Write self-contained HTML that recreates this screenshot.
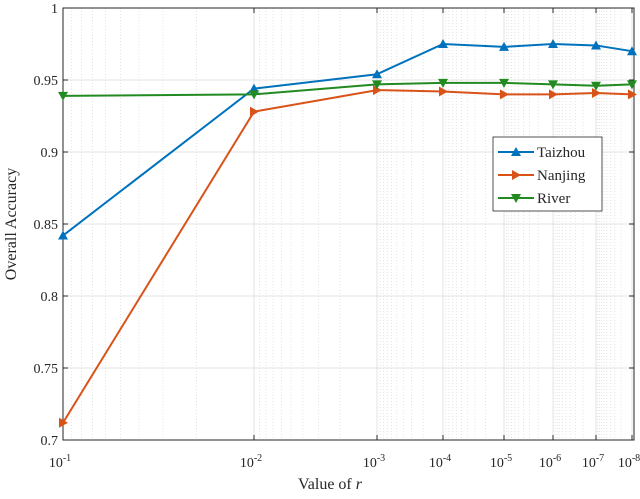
<!DOCTYPE html>
<html><head><meta charset="utf-8"><style>
body{margin:0;background:#fff}
svg text{font-family:"Liberation Serif",serif;fill:#262626}
</style></head><body>
<svg id="c" width="640" height="494" xmlns="http://www.w3.org/2000/svg"></svg>
<script>
const categories=["1e-1","1e-2","1e-3","1e-4","1e-5","1e-6","1e-7","1e-8"];
const tickExps=[1,2,3,4,5,6,7,8];
const taizhou=[0.842,0.944,0.954,0.975,0.973,0.975,0.974,0.970];
const nanjing=[0.712,0.928,0.943,0.942,0.940,0.940,0.941,0.940];
const river=[0.939,0.940,0.947,0.948,0.948,0.947,0.946,0.947];
const yTicks=[0.7,0.75,0.8,0.85,0.9,0.95,1];
const yLabels=["0.7","0.75","0.8","0.85","0.9","0.95","1"];

const NS="http://www.w3.org/2000/svg";
const svg=document.getElementById('c');
const L=63,R=634,T=8,B=440;
const tickPx=[63,254,377,443,504,553,596,632];
function xs(i){const f=Math.floor(i),r=i-f;if(f>=tickPx.length-1)return tickPx[tickPx.length-1];return tickPx[f]+(tickPx[f+1]-tickPx[f])*r;}
function ys(v){return B-(v-0.7)/0.3*(B-T);}
function mk(tag,a,p){const e=document.createElementNS(NS,tag);for(const k in a)e.setAttribute(k,a[k]);(p||svg).appendChild(e);return e;}

// minor grid
for(let i=0;i<7;i++){for(let k=2;k<=9;k++){const x=xs(i+1-Math.log10(k));
const l=mk('line',{x1:x,x2:x,y1:T,y2:B,stroke:'#d8d8d8','stroke-dasharray':'1,2','stroke-width':0.7});

}}
// major grid
tickExps.forEach((e,i)=>{const x=xs(i);
const l=mk('line',{x1:x,x2:x,y1:T,y2:B,stroke:'#dcdcdc','stroke-width':0.8});


mk('line',{x1:x,x2:x,y1:B,y2:B-5,stroke:'#262626'});mk('line',{x1:x,x2:x,y1:T,y2:T+5,stroke:'#262626'});
const t=mk('text',{x:x-3,y:467,'text-anchor':'middle','font-size':14});


t.textContent='10';const s=mk('tspan',{dy:-6,'font-size':10},t);s.textContent='-'+e;});
yTicks.forEach((v,i)=>{const y=ys(v);
const l=mk('line',{x1:L,x2:R,y1:y,y2:y,stroke:'#dcdcdc','stroke-width':0.8});


mk('line',{x1:L,x2:L+5,y1:y,y2:y,stroke:'#262626'});mk('line',{x1:R,x2:R-5,y1:y,y2:y,stroke:'#262626'});
const t=mk('text',{x:L-5,y:y+5,'text-anchor':'end','font-size':14});


t.textContent=yLabels[i];});
const box=mk('rect',{x:L,y:T,width:R-L,height:B-T,fill:'none',stroke:'#262626','stroke-width':1});



function marker(type,x,y,c,p){let pts;
if(type==='up')pts=[[x,y-5],[x-5,y+4],[x+5,y+4]];
else if(type==='down')pts=[[x,y+5],[x-5,y-4],[x+5,y-4]];
else pts=[[x+5,y],[x-4,y-5],[x-4,y+5]];
mk('polygon',{points:pts.map(q=>q.join(',')).join(' '),fill:c},p);}
const series=[[taizhou,'#0072BD','up','Taizhou'],[nanjing,'#D95319','right','Nanjing'],[river,'#218A21','down','River']];
series.forEach(([d,c,m,n])=>{const g=mk('g',{});


mk('polyline',{points:d.map((v,i)=>xs(i)+','+ys(v)).join(' '),fill:'none',stroke:c,'stroke-width':2},g);
d.forEach((v,i)=>marker(m,xs(i),ys(v),c,g));});

// legend
const lg=mk('g',{});


mk('rect',{x:493,y:137,width:109,height:74,fill:'#fff',stroke:'#262626','stroke-width':0.8},lg);
series.forEach(([d,c,m,n],i)=>{const y=152+i*23;const g=mk('g',{},lg);


mk('line',{x1:498,x2:534,y1:y,y2:y,stroke:c,'stroke-width':2},g);marker(m,516,y,c,g);
const t=mk('text',{x:537,y:y+5,'font-size':15},g);t.textContent=n;});

const xt=mk('text',{x:330,y:489,'text-anchor':'middle','font-size':16});


xt.textContent='Value of ';const it=mk('tspan',{'font-style':'italic'},xt);it.textContent='r';
const yt=mk('text',{x:0,y:0,'text-anchor':'middle','font-size':16,transform:'translate(16,224) rotate(-90)'});


yt.textContent='Overall Accuracy';
</script>
</body></html>
